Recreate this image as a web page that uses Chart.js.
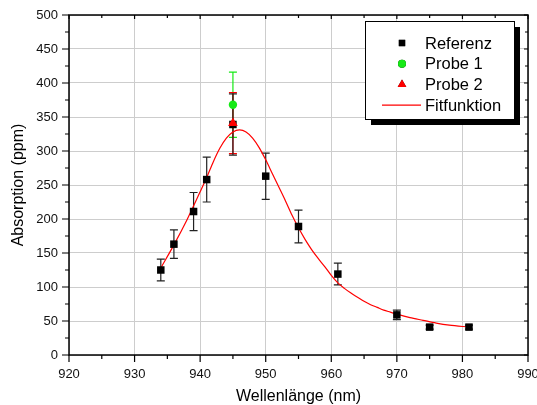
<!DOCTYPE html>
<html>
<head>
<meta charset="utf-8">
<script src="https://cdn.jsdelivr.net/npm/chart.js@4/dist/chart.umd.min.js"></script>
<style>
    html, body { margin: 0; padding: 0; background: #fff; }
    #wrap { width: 537px; height: 405px; }
</style>
</head>
<body>
<div id="wrap"><canvas id="absChart" width="537" height="405"></canvas></div>
<script>
const refX = [934, 936, 939, 941, 945, 950, 955, 961, 970, 975, 981];
const refY = [125, 163, 211, 258, 339, 263, 189, 119, 59, 41, 41];
const refErr = [16, 21, 28, 33, 45, 34, 24, 16, 7, 3, 3];

const probe1X = [945];
const probe1Y = [368];
const probe1Err = [48];

const probe2X = [945];
const probe2Y = [341];
const probe2Err = [45];

const fitX = [934, 936, 938, 940, 941, 942, 943, 944, 945, 946, 947, 948, 949, 950, 951, 952, 953, 954, 955,
    956, 957, 958, 959, 960, 961, 962, 963, 964, 965, 966, 967, 968, 969, 970, 972, 974, 976, 978, 981];
const fitY = [128, 162, 199, 240, 261, 284, 304, 319, 328, 331, 328, 319, 305, 287, 267, 247, 227, 206, 187,
    170, 155, 142, 130, 117, 106, 98, 91, 85, 79, 74, 70, 66, 63, 60, 55, 51, 47, 44, 41];

const xMinorTicks = [925, 935, 945, 955, 965, 975, 985];
const yMinorTicks = [25, 75, 125, 175, 225, 275, 325, 375, 425, 475];

const FONT = "'Liberation Sans', Arial, sans-serif";
const GREEN = '#16ea16';
const RED = '#ff0000';

const toPoints = (xs, ys) => xs.map((x, i) => ({ x, y: ys[i] }));

// Fehlerbalken (unter den Symbolen)
const errorBars = {
    id: 'errorBars',
    beforeDatasetsDraw(chart) {
        const { ctx, scales: { x, y } } = chart;
        const sets = [
            { xs: probe1X, ys: probe1Y, err: probe1Err, color: GREEN },
            { xs: probe2X, ys: probe2Y, err: probe2Err, color: RED },
            { xs: refX, ys: refY, err: refErr, color: '#222' }
        ];
        ctx.save();
        ctx.lineWidth = 1.2;
        sets.forEach(s => {
            ctx.strokeStyle = s.color;
            s.xs.forEach((v, i) => {
                const px = x.getPixelForValue(v);
                const top = y.getPixelForValue(s.ys[i] + s.err[i]);
                const bot = y.getPixelForValue(s.ys[i] - s.err[i]);
                ctx.beginPath();
                ctx.moveTo(px, top); ctx.lineTo(px, bot);
                ctx.moveTo(px - 4, top); ctx.lineTo(px + 4, top);
                ctx.moveTo(px - 4, bot); ctx.lineTo(px + 4, bot);
                ctx.stroke();
            });
        });
        ctx.restore();
    }
};

// Rahmen und Teilstriche (außen unten/links, innen oben/rechts)
const frameTicks = {
    id: 'frameTicks',
    afterDatasetsDraw(chart) {
        const { ctx, chartArea: a, scales: { x, y } } = chart;
        ctx.save();
        ctx.strokeStyle = '#000';
        ctx.lineWidth = 1.5;
        ctx.strokeRect(a.left, a.top, a.right - a.left, a.bottom - a.top);
        ctx.lineWidth = 1.2;
        ctx.beginPath();
        const xMajor = x.ticks.map(t => t.value);
        const yMajor = y.ticks.map(t => t.value);
        xMajor.forEach(v => {
            const px = x.getPixelForValue(v);
            ctx.moveTo(px, a.bottom); ctx.lineTo(px, a.bottom + 7);
            ctx.moveTo(px, a.top); ctx.lineTo(px, a.top + 4);
        });
        xMinorTicks.forEach(v => {
            const px = x.getPixelForValue(v);
            ctx.moveTo(px, a.bottom); ctx.lineTo(px, a.bottom + 4);
            ctx.moveTo(px, a.top); ctx.lineTo(px, a.top + 3);
        });
        yMajor.forEach(v => {
            const py = y.getPixelForValue(v);
            ctx.moveTo(a.left, py); ctx.lineTo(a.left - 7, py);
            ctx.moveTo(a.right, py); ctx.lineTo(a.right - 4, py);
        });
        yMinorTicks.forEach(v => {
            const py = y.getPixelForValue(v);
            ctx.moveTo(a.left, py); ctx.lineTo(a.left - 4, py);
            ctx.moveTo(a.right, py); ctx.lineTo(a.right - 3, py);
        });
        ctx.stroke();
        ctx.restore();
    }
};

// Legende im Diagramm mit Schatten
const boxLegend = {
    id: 'boxLegend',
    afterDraw(chart) {
        const { ctx, chartArea: a } = chart;
        const w = 149, h = 98;
        const left = a.right - 14 - w, top = a.top + 6;
        ctx.save();
        ctx.fillStyle = '#000';
        ctx.fillRect(left + 6, top + 6, w, h);
        ctx.fillStyle = '#fff';
        ctx.fillRect(left, top, w, h);
        ctx.strokeStyle = '#000';
        ctx.lineWidth = 1;
        ctx.strokeRect(left + 0.5, top + 0.5, w, h);

        ctx.font = '16.5px ' + FONT;
        ctx.textBaseline = 'middle';
        chart.data.datasets.forEach((ds, i) => {
            const cy = top + 22 + i * 20.7;
            const mx = left + 37;
            ctx.fillStyle = '#000';
            ctx.fillText(ds.label, left + 60, cy + 1);
            if (ds.showLine) {
                ctx.strokeStyle = ds.borderColor;
                ctx.lineWidth = 1.2;
                ctx.beginPath();
                ctx.moveTo(left + 17, cy); ctx.lineTo(left + 56, cy);
                ctx.stroke();
            } else {
                Chart.helpers.drawPoint(ctx, {
                    pointStyle: ds.pointStyle,
                    radius: ds.legendRadius,
                    borderWidth: 0
                }, mx, cy);
                ctx.fillStyle = ds.backgroundColor;
                ctx.fill();
            }
        });
        ctx.restore();
    }
};

new Chart(document.getElementById('absChart'), {
    type: 'scatter',
    data: {
        datasets: [
            {
                label: 'Referenz',
                data: toPoints(refX, refY),
                pointStyle: 'rect',
                pointRadius: 5.3,
                legendRadius: 4.5,
                backgroundColor: '#000',
                borderColor: '#000',
                borderWidth: 0,
                order: 3
            },
            {
                label: 'Probe 1',
                data: toPoints(probe1X, probe1Y),
                pointStyle: 'circle',
                pointRadius: 4.2,
                legendRadius: 4,
                backgroundColor: GREEN,
                borderColor: GREEN,
                borderWidth: 0,
                order: 2
            },
            {
                label: 'Probe 2',
                data: toPoints(probe2X, probe2Y),
                pointStyle: 'triangle',
                pointRadius: 5.6,
                legendRadius: 5,
                backgroundColor: RED,
                borderColor: RED,
                borderWidth: 0,
                order: 1
            },
            {
                label: 'Fitfunktion',
                data: toPoints(fitX, fitY),
                showLine: true,
                pointRadius: 0,
                borderColor: RED,
                borderWidth: 1.2,
                tension: 0.3,
                order: 4
            }
        ]
    },
    options: {
        responsive: false,
        animation: false,
        events: [],
        layout: { padding: { left: 0, right: 9, top: 15, bottom: 0 } },
        plugins: {
            legend: { display: false },
            tooltip: { enabled: false }
        },
        scales: {
            x: {
                type: 'linear',
                min: 920,
                max: 990,
                ticks: { stepSize: 10, color: '#111', padding: 12, maxRotation: 0, font: { family: FONT, size: 13 } },
                grid: { color: '#cdcdcd', lineWidth: 1, drawTicks: false },
                border: { display: false },
                title: {
                    display: true,
                    text: 'Wellenlänge (nm)',
                    color: '#000',
                    font: { family: FONT, size: 16, lineHeight: 1 },
                    padding: { top: 0, bottom: 0 }
                },
                afterFit(scale) {
                    scale.height = 50;
                    scale.paddingLeft = 0;
                    scale.paddingRight = 0;
                }
            },
            y: {
                type: 'linear',
                min: 0,
                max: 500,
                ticks: { stepSize: 50, color: '#111', padding: 11, font: { family: FONT, size: 13 } },
                grid: { color: '#cdcdcd', lineWidth: 1, drawTicks: false },
                border: { display: false },
                title: {
                    display: true,
                    text: 'Absorption (ppm)',
                    color: '#000',
                    font: { family: FONT, size: 16, lineHeight: 1 },
                    padding: { top: 11, bottom: 0 }
                },
                afterFit(scale) {
                    scale.width = 69;
                    scale.paddingTop = 0;
                    scale.paddingBottom = 0;
                }
            }
        }
    },
    plugins: [errorBars, frameTicks, boxLegend]
});
</script>
</body>
</html>
